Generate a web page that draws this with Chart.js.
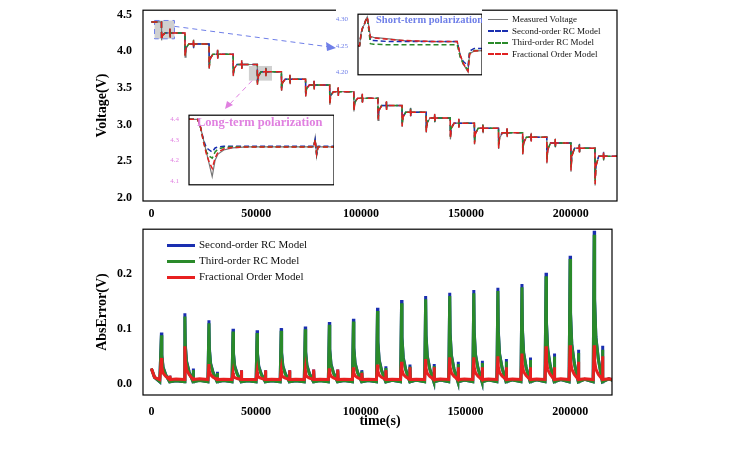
<!DOCTYPE html>
<html><head><meta charset="utf-8">
<script src="https://cdn.jsdelivr.net/npm/chart.js"></script>
<style>
body{margin:0;background:#fff;width:743px;height:455px;overflow:hidden;font-family:"Liberation Serif",serif;position:relative}
.box{position:absolute}
.leg{position:absolute;font-size:10px;line-height:12.5px;color:#111}
.leg div{white-space:nowrap}
.leg span{display:inline-block;vertical-align:middle;margin-right:4px}
</style></head><body>
<div class="box" style="left:0;top:0;width:743px;height:222px"><canvas id="top"></canvas></div>
<div class="box" style="left:0;top:219px;width:743px;height:200px"><canvas id="bot"></canvas></div>
<div class="box" style="left:336px;top:8px;width:146px;height:73px;background:#fff"><canvas id="inS"></canvas></div>
<div class="box" style="left:167px;top:109px;width:167px;height:82px;background:#fff"><canvas id="inL"></canvas></div>
<div style="position:absolute;left:330px;top:413px;width:100px;text-align:center;font-weight:bold;font-size:14px">time(s)</div>
<div class="leg" style="left:488px;top:14px;font-size:9px;line-height:11.5px">
<div><span style="width:20px;border-top:1.5px solid #777"></span>Measured Voltage</div>
<div><span style="width:20px;border-top:2px dashed #1a2fb0"></span>Second-order RC Model</div>
<div><span style="width:20px;border-top:2px dashed #2a8a2a"></span>Third-order RC Model</div>
<div><span style="width:20px;border-top:2px dashed #e02020"></span>Fractional Order Model</div>
</div>
<div class="leg" style="left:167px;top:236px;line-height:16px;font-size:11px">
<div><span style="width:28px;border-top:3px solid #1a2fb0"></span>Second-order RC Model</div>
<div><span style="width:28px;border-top:3px solid #2a8a2a"></span>Third-order RC Model</div>
<div><span style="width:28px;border-top:3px solid #e82020"></span>Fractional Order Model</div>
</div>
<script>
// step times (s) and plateau voltages
const stepTimes = [4800,16000,27500,39000,50500,62000,73500,85000,96500,108000,119500,131000,142500,154000,165500,177000,188500,200000,211500];
const levels = [4.40,4.25,4.10,3.96,3.82,3.72,3.62,3.54,3.45,3.36,3.26,3.17,3.09,3.02,2.95,2.89,2.83,2.75,2.68,2.57];
const dips = [0.10,0.18,0.20,0.16,0.18,0.16,0.16,0.18,0.18,0.20,0.20,0.20,0.22,0.22,0.22,0.24,0.28,0.32,0.40];
const endTime = 222000;
const xTicks = [0,50000,100000,150000,200000];
// absolute error peaks per model
const peak2 = [0.093,0.128,0.115,0.100,0.097,0.101,0.104,0.112,0.118,0.138,0.152,0.159,0.165,0.170,0.174,0.181,0.201,0.232,0.277];
const peak3 = [0.088,0.122,0.110,0.095,0.092,0.096,0.099,0.107,0.113,0.132,0.146,0.153,0.159,0.164,0.168,0.175,0.195,0.226,0.270];
const peakF = [0.047,0.068,0.036,0.020,0.022,0.024,0.025,0.028,0.030,0.035,0.040,0.045,0.048,0.048,0.050,0.055,0.068,0.070,0.070];
const second2 = [0.015,0.028,0.022,0.025,0.025,0.025,0.026,0.026,0.025,0.032,0.035,0.036,0.040,0.042,0.045,0.048,0.055,0.062,0.069];
const secondF = [0.015,0.010,0.012,0.025,0.025,0.025,0.026,0.026,0.020,0.025,0.030,0.030,0.030,0.030,0.030,0.030,0.030,0.040,0.050];
const decayOffsets = [0,200,800,2000,4000,7000,11000];
const decayShape = [1,0.55,0.3,0.15,0.07,0.02,0];
// inset data
const shortT = [0,1,2,3,4,5,6,8,10,20,30,40,50,60,64,66,68,70,71,72,75,80];
const shortMeas = [4.250,4.250,4.275,4.285,4.290,4.300,4.305,4.268,4.266,4.263,4.260,4.259,4.258,4.258,4.258,4.232,4.215,4.205,4.200,4.235,4.240,4.241];
const short2 = [4.250,4.250,4.272,4.284,4.290,4.298,4.303,4.260,4.260,4.258,4.258,4.258,4.258,4.258,4.258,4.230,4.220,4.215,4.212,4.240,4.245,4.245];
const short3 = [4.250,4.250,4.272,4.284,4.290,4.298,4.303,4.254,4.253,4.252,4.252,4.252,4.252,4.252,4.252,4.228,4.215,4.208,4.205,4.236,4.241,4.241];
const shortF = [4.250,4.250,4.274,4.285,4.290,4.299,4.304,4.266,4.265,4.262,4.260,4.259,4.258,4.258,4.258,4.232,4.216,4.206,4.202,4.234,4.240,4.241];
const longT = [0,6,8,10,12,14,16,18,20,24,30,40,60,80,86,87,88,89,90,100];
const longMeas = [4.40,4.40,4.36,4.30,4.24,4.18,4.12,4.20,4.23,4.25,4.26,4.265,4.265,4.265,4.265,4.31,4.22,4.265,4.265,4.265];
const long2 = [4.40,4.40,4.36,4.30,4.26,4.25,4.24,4.26,4.265,4.268,4.268,4.268,4.268,4.268,4.268,4.30,4.23,4.268,4.268,4.268];
const long3 = [4.40,4.40,4.36,4.29,4.24,4.22,4.21,4.24,4.255,4.262,4.266,4.266,4.266,4.266,4.266,4.30,4.23,4.266,4.266,4.266];
const longF = [4.40,4.40,4.36,4.29,4.23,4.19,4.16,4.21,4.24,4.255,4.262,4.265,4.265,4.265,4.265,4.30,4.23,4.265,4.265,4.265];

const BLUE='#1a2fb0', GREEN='#2a8a2a', RED='#e02020', GRAY='#777';
const serif='"Liberation Serif", serif';

function voltageSeries(dipScale, spike){
  const pts=[{x:0,y:levels[0]}];
  stepTimes.forEach((t,i)=>{
    const prev=levels[i], L=levels[i+1], d=dips[i]*dipScale;
    pts.push({x:t,y:prev},{x:t+60,y:L-d},{x:t+500,y:L-d*0.35},{x:t+1800,y:L},
      {x:t+4000,y:L},{x:t+4060,y:L+spike},{x:t+4120,y:L-spike},{x:t+4250,y:L});
  });
  pts.push({x:endTime,y:levels[levels.length-1]});
  return pts;
}
function errorSeries(peaks, seconds, base){
  const pts=[{x:0,y:0.028},{x:1500,y:0.012},{x:4000,y:base}];
  stepTimes.forEach((t,i)=>{
    decayOffsets.forEach((o,k)=>pts.push({x:t+o,y:base+(peaks[i]-base)*decayShape[k]}));
    pts.push({x:t+3900,y:base},{x:t+4000,y:seconds[i]},{x:t+4200,y:base});
  });
  pts.push({x:endTime,y:base});
  return pts.sort((a,b)=>a.x-b.x);
}

const frame={id:'frame',afterDraw(c,o){const a=c.chartArea,g=c.ctx;g.save();g.strokeStyle=(o&&o.color)||'#000';g.lineWidth=(o&&o.w)||1.2;g.strokeRect(a.left,a.top,a.right-a.left,a.bottom-a.top);g.restore();}};
const marks={id:'marks',beforeDatasetsDraw(c){
  const g=c.ctx,X=c.scales.x,Y=c.scales.y;g.save();
  g.fillStyle='rgba(150,150,150,0.45)';
  g.fillRect(X.getPixelForValue(1500),Y.getPixelForValue(4.42),X.getPixelForValue(11000)-X.getPixelForValue(1500),Y.getPixelForValue(4.17)-Y.getPixelForValue(4.42));
  g.fillRect(X.getPixelForValue(46500),Y.getPixelForValue(3.8),X.getPixelForValue(57500)-X.getPixelForValue(46500),Y.getPixelForValue(3.6)-Y.getPixelForValue(3.8));
  g.setLineDash([5,4]);g.lineWidth=1;
  g.strokeStyle='#6f7fe8';g.strokeRect(X.getPixelForValue(1500),Y.getPixelForValue(4.42),X.getPixelForValue(11000)-X.getPixelForValue(1500),Y.getPixelForValue(4.17)-Y.getPixelForValue(4.42));
  g.beginPath();g.moveTo(X.getPixelForValue(11000),Y.getPixelForValue(4.34));g.lineTo(330,47);g.stroke();
  g.setLineDash([]);g.fillStyle='#6f7fe8';g.beginPath();g.moveTo(336,48);g.lineTo(326,42);g.lineTo(327,51);g.fill();
  g.setLineDash([5,4]);g.strokeStyle='#e080e0';
  g.beginPath();g.moveTo(X.getPixelForValue(48000),Y.getPixelForValue(3.6));g.lineTo(228,106);g.stroke();
  g.setLineDash([]);g.fillStyle='#e080e0';g.beginPath();g.moveTo(225,109);g.lineTo(227,101);g.lineTo(233,105);g.fill();
  g.restore();}};

const fix=(w,h)=>({afterFit(s){if(w)s.width=w;if(h)s.height=h;}});
const tickFont={family:serif,size:12,weight:'bold'};
const xAxis=(max,pad,extra)=>Object.assign({type:'linear',min:-4000,max:max,grid:{display:false},border:{display:false},
  afterBuildTicks(s){s.ticks=xTicks.map(v=>({value:v}));},
  ticks:{color:'#000',font:tickFont,maxRotation:0,padding:pad,callback:v=>String(v)}},extra);

new Chart(document.getElementById('top'),{type:'line',
  data:{datasets:[
    {data:voltageSeries(1,0.06),borderColor:GRAY,borderWidth:1.2,order:4},
    {data:voltageSeries(0.75,0.05),borderColor:BLUE,borderWidth:1.5,borderDash:[6,4],order:3},
    {data:voltageSeries(0.85,0.05),borderColor:GREEN,borderWidth:1.5,borderDash:[6,4],order:2},
    {data:voltageSeries(0.95,0.06),borderColor:RED,borderWidth:1.5,borderDash:[6,4],order:1}]},
  options:{responsive:true,maintainAspectRatio:false,animation:false,parsing:false,
    elements:{point:{radius:0},line:{tension:0}},
    layout:{padding:{left:90,right:126,top:4,bottom:0}},
    plugins:{legend:{display:false},tooltip:{enabled:false}},
    scales:{
      x:xAxis(222000,-2,fix(0,21)),
      y:{min:1.96,max:4.56,grid:{display:false},border:{display:false},
        afterBuildTicks(s){s.ticks=[2,2.5,3,3.5,4,4.5].map(v=>({value:v}));},
        ticks:{color:'#000',font:tickFont,callback:v=>v.toFixed(1)},
        title:{display:true,text:'Voltage(V)',color:'#000',font:{family:serif,size:14,weight:'bold'}},...fix(53,0)}}},
  plugins:[marks,frame]});

new Chart(document.getElementById('bot'),{type:'line',
  data:{datasets:[
    {data:errorSeries(peak2,second2,0.004),borderColor:BLUE,borderWidth:3,order:3},
    {data:errorSeries(peak3,second2.map(v=>v*0.9),0.004),borderColor:GREEN,borderWidth:3,order:2},
    {data:errorSeries(peakF,secondF,0.008),borderColor:'#e82020',borderWidth:3,order:1}]},
  options:{responsive:true,maintainAspectRatio:false,animation:false,parsing:false,
    elements:{point:{radius:0},line:{tension:0}},
    layout:{padding:{left:90,right:131,top:5,bottom:0}},
    plugins:{legend:{display:false},tooltip:{enabled:false}},
    scales:{
      x:xAxis(220000,2,fix(0,24)),
      y:{min:-0.02,max:0.28,grid:{display:false},border:{display:false},
        afterBuildTicks(s){s.ticks=[0,0.1,0.2].map(v=>({value:v}));},
        ticks:{color:'#000',font:tickFont,callback:v=>v.toFixed(1)},
        title:{display:true,text:'AbsError(V)',color:'#000',font:{family:serif,size:14,weight:'bold'}},...fix(53,0)}}},
  plugins:[frame]});

function inset(id,T,series,ymin,ymax,yt,col,title,tx,ty,fs,digits){
  const ttl={id:'ttl',afterDraw(c){const g=c.ctx;g.save();g.fillStyle=col;g.font='bold '+fs+'px '+serif;g.fillText(title,tx,ty);g.restore();}};
  new Chart(document.getElementById(id),{type:'line',
    data:{datasets:series.map((s,i)=>({data:s.map((v,k)=>({x:T[k],y:v})),borderColor:[GRAY,BLUE,GREEN,RED][i],borderWidth:i?1.5:1.2,borderDash:i?[5,3]:[],order:i?4-i:4}))},
    options:{responsive:true,maintainAspectRatio:false,animation:false,parsing:false,
      elements:{point:{radius:0},line:{tension:0}},layout:{padding:0},
      plugins:{legend:{display:false},tooltip:{enabled:false},frame:{color:col,w:2}},
      scales:{x:{type:'linear',min:T[0],max:T[T.length-1],display:false},
        y:{min:ymin,max:ymax,grid:{display:false},border:{display:false},
          afterBuildTicks(s){s.ticks=yt.map(v=>({value:v}));},
          ticks:{color:col,padding:2,font:{family:serif,size:7},callback:v=>v.toFixed(digits)},...fix(22,0)}}},
    plugins:[frame,ttl]});
}
inset('inS',shortT,[shortMeas,short2,short3,shortF],4.195,4.31,[4.20,4.25,4.30],'#6f7fe8','Short-term polarization',40,15,10.5,2);
inset('inL',longT,[longMeas,long2,long3,longF],4.08,4.42,[4.1,4.2,4.3,4.4],'#e080e0','Long-term polarization',30,17,12.5,1);
</script></body></html>
